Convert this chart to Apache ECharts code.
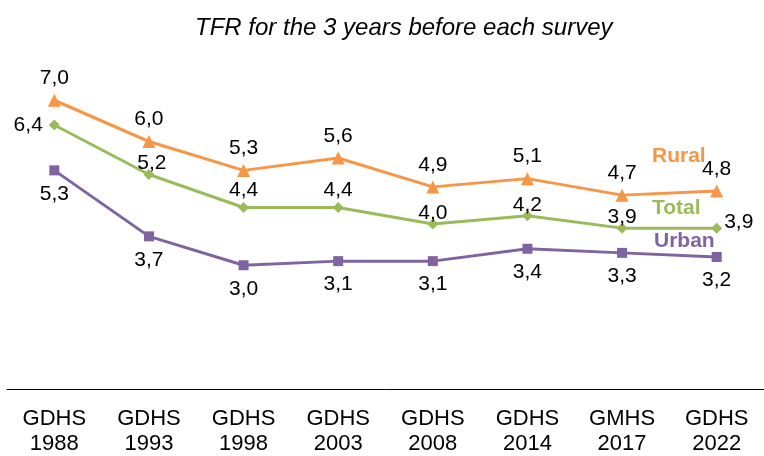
<!DOCTYPE html>
<html><head><meta charset="utf-8">
<script src="https://cdn.jsdelivr.net/npm/echarts@6/dist/echarts.min.js"></script>
<style>html,body{margin:0;padding:0;background:#fff}#c{width:764px;height:456px}</style>
</head><body><div id="c"></div>
<script>
var categories = ['GDHS\n1988','GDHS\n1993','GDHS\n1998','GDHS\n2003','GDHS\n2008','GDHS\n2014','GMHS\n2017','GDHS\n2022'];
var rural = [7.0, 6.0, 5.3, 5.6, 4.9, 5.1, 4.7, 4.8];
var total = [6.4, 5.2, 4.4, 4.4, 4.0, 4.2, 3.9, 3.9];
var urban = [5.3, 3.7, 3.0, 3.1, 3.1, 3.4, 3.3, 3.2];
var seriesNames = ['Rural', 'Total', 'Urban'];
var titleText = 'TFR for the 3 years before each survey';

var FONT = '"Liberation Sans", Arial, sans-serif';
var fmt = function (p) { return p.value.toFixed(1).replace('.', ','); };
var lblBase = {show: true, formatter: fmt, color: '#000', fontSize: 21, fontFamily: FONT};

function build(vals, pos) {
  return vals.map(function (v, i) {
    var d = {value: v};
    if (pos[i]) d.label = pos[i];
    return d;
  });
}
var totalPos = [
  {position: 'left', distance: 6},
  {position: 'top', distance: -5, offset: [3, 0]},
  {position: 'top', distance: 1},
  {position: 'top', distance: 1},
  null, null, null,
  {position: 'right', distance: 2, offset: [0, -6]}
];

var chart = echarts.init(document.getElementById('c'));
chart.setOption({
  animation: false,
  title: {text: titleText, left: 190, top: 11,
    textStyle: {fontSize: 24, fontStyle: 'italic', fontWeight: 'normal', color: '#000', fontFamily: FONT}},
  grid: {left: 7, right: 0, top: 59, bottom: 67},
  xAxis: {type: 'category', data: categories, boundaryGap: true,
    axisLine: {lineStyle: {color: '#000', width: 1}}, axisTick: {show: false},
    axisLabel: {color: '#000', fontSize: 22, fontFamily: FONT, margin: 17, lineHeight: 25}},
  yAxis: {type: 'value', min: 0, max: 8, show: false, splitLine: {show: false}},
  series: [
    {name: seriesNames[0], type: 'line', data: build(rural, []), color: '#F79646',
     symbol: 'triangle', symbolSize: 13, lineStyle: {width: 3},
     label: Object.assign({}, lblBase, {position: 'top', distance: 5})},
    {name: seriesNames[1], type: 'line', data: build(total, totalPos), color: '#9BBB59',
     symbol: 'diamond', symbolSize: 11, lineStyle: {width: 3},
     label: Object.assign({}, lblBase, {position: 'top', distance: -5})},
    {name: seriesNames[2], type: 'line', data: build(urban, []), color: '#8064A2',
     symbol: 'rect', symbolSize: 10, lineStyle: {width: 3},
     label: Object.assign({}, lblBase, {position: 'bottom', distance: 8})}
  ],
  graphic: [
    {type: 'text', left: 652, top: 146, style: {text: seriesNames[0], fill: '#F79646', font: 'bold 21px ' + FONT}},
    {type: 'text', left: 652, top: 198, style: {text: seriesNames[1], fill: '#9BBB59', font: 'bold 21px ' + FONT}},
    {type: 'text', left: 654, top: 231, style: {text: seriesNames[2], fill: '#8064A2', font: 'bold 21px ' + FONT}}
  ]
});
</script></body></html>
